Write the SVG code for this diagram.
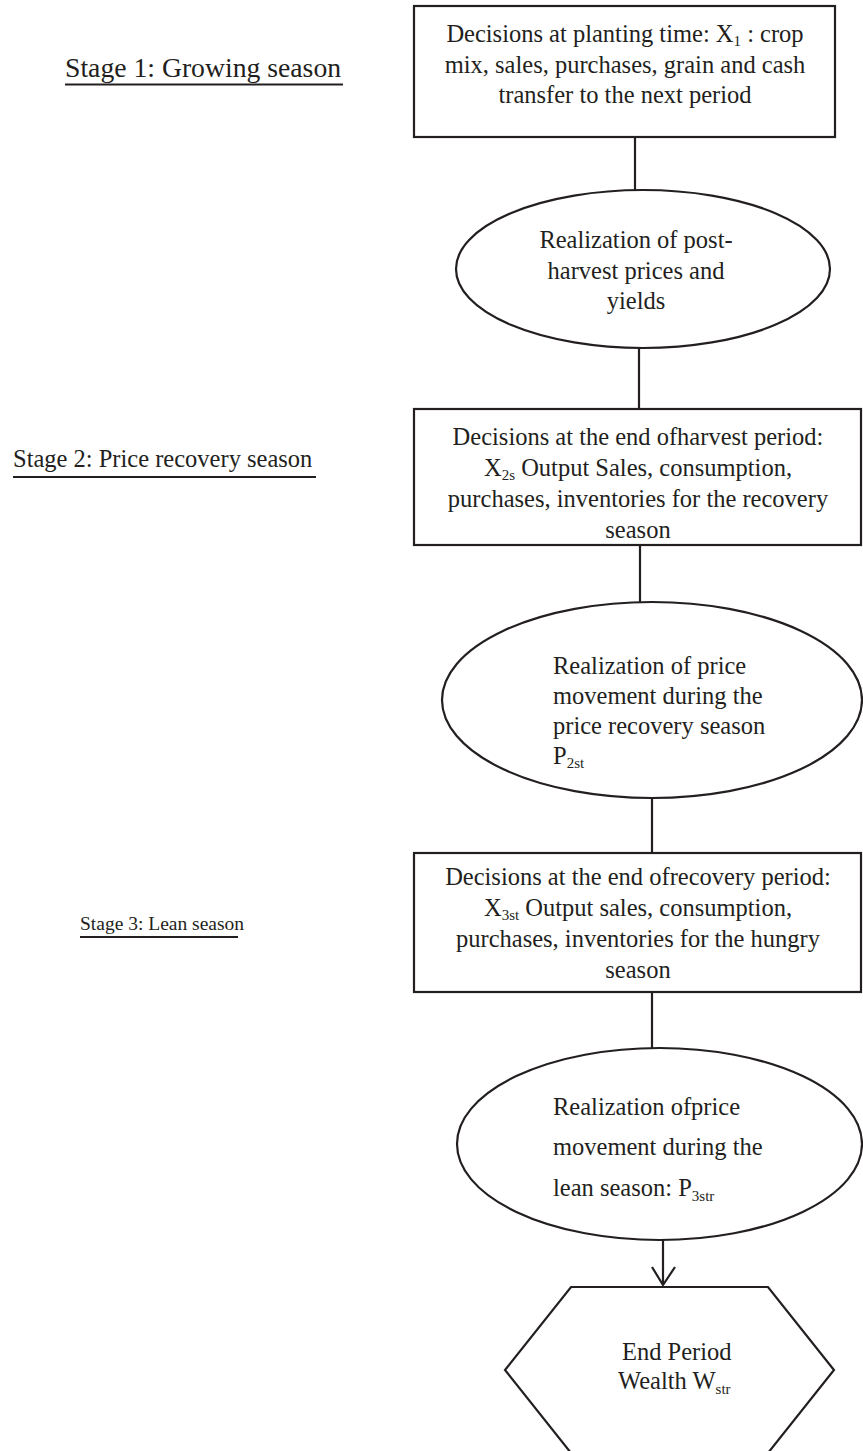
<svg xmlns="http://www.w3.org/2000/svg" width="863" height="1451" viewBox="0 0 863 1451">
<style>
.shape{fill:#fff;stroke:#231f20;stroke-width:2.2}
.conn{fill:none;stroke:#231f20;stroke-width:2.2}
.t{font-family:"Liberation Serif","Times New Roman",serif;font-size:24.5px;fill:#231f20}
.c{text-anchor:middle}
.sub{font-size:15px}
.lbl{font-family:"Liberation Serif","Times New Roman",serif;fill:#231f20}
</style>
<rect width="863" height="1451" fill="#fff"/>
<g id="labels">
<text class="lbl" x="65" y="77" font-size="27.7">Stage 1: Growing season</text>
<line class="conn" x1="65" y1="84.5" x2="343" y2="84.5"/>
<text class="lbl" x="13" y="467" font-size="24.5">Stage 2: Price recovery season</text>
<line class="conn" x1="13" y1="477" x2="316" y2="477"/>
<text class="lbl" x="80" y="930" font-size="19.5">Stage 3: Lean season</text>
<line class="conn" x1="80" y1="937" x2="238" y2="937"/>
</g>
<g id="connectors">
<line class="conn" x1="635" y1="137" x2="635" y2="190"/>
<line class="conn" x1="639" y1="348" x2="639" y2="409"/>
<line class="conn" x1="640" y1="545" x2="640" y2="602"/>
<line class="conn" x1="652" y1="798" x2="652" y2="853"/>
<line class="conn" x1="652" y1="992" x2="652" y2="1048"/>
<line class="conn" x1="663" y1="1240" x2="663" y2="1285"/>
<polyline class="conn" points="652,1267 663,1285 675,1267"/>
</g>
<g id="box1">
<rect class="shape" x="414" y="6" width="421" height="131"/>
<text class="t c" x="625" y="42">Decisions at planting time: X<tspan class="sub" baseline-shift="-4">1</tspan> : crop</text>
<text class="t c" x="625" y="72.5">mix, sales, purchases, grain and cash</text>
<text class="t c" x="625" y="103">transfer to the next period</text>
</g>
<g id="ellipse1">
<ellipse class="shape" cx="643" cy="269" rx="187" ry="79"/>
<text class="t c" x="636" y="248">Realization of post-</text>
<text class="t c" x="636" y="279">harvest prices and</text>
<text class="t c" x="636" y="309">yields</text>
</g>
<g id="box2">
<rect class="shape" x="414" y="409" width="447" height="136"/>
<text class="t c" x="638" y="445">Decisions at the end ofharvest period:</text>
<text class="t c" x="638" y="476">X<tspan class="sub" baseline-shift="-4">2s</tspan> Output Sales, consumption,</text>
<text class="t c" x="638" y="507">purchases, inventories for the recovery</text>
<text class="t c" x="638" y="538">season</text>
</g>
<g id="ellipse2">
<ellipse class="shape" cx="652" cy="700" rx="210" ry="98"/>
<text class="t" x="553" y="674">Realization of price</text>
<text class="t" x="553" y="704">movement during the</text>
<text class="t" x="553" y="734">price recovery season</text>
<text class="t" x="553" y="764">P<tspan class="sub" baseline-shift="-4">2st</tspan></text>
</g>
<g id="box3">
<rect class="shape" x="414" y="853" width="447" height="139"/>
<text class="t c" x="638" y="885">Decisions at the end ofrecovery period:</text>
<text class="t c" x="638" y="916">X<tspan class="sub" baseline-shift="-4">3st</tspan> Output sales, consumption,</text>
<text class="t c" x="638" y="947">purchases, inventories for the hungry</text>
<text class="t c" x="638" y="978">season</text>
</g>
<g id="ellipse3">
<ellipse class="shape" cx="659.5" cy="1144" rx="202.5" ry="96"/>
<text class="t" x="553" y="1115">Realization ofprice</text>
<text class="t" x="553" y="1155">movement during the</text>
<text class="t" x="553" y="1196">lean season: P<tspan class="sub" baseline-shift="-5">3str</tspan></text>
</g>
<g id="hexagon">
<polygon class="shape" points="571,1287 768,1287 834,1370 768,1453 571,1453 505,1370"/>
<text class="t" x="622" y="1360">End Period</text>
<text class="t" x="618" y="1389">Wealth W<tspan class="sub" baseline-shift="-5">str</tspan></text>
</g>
</svg>
